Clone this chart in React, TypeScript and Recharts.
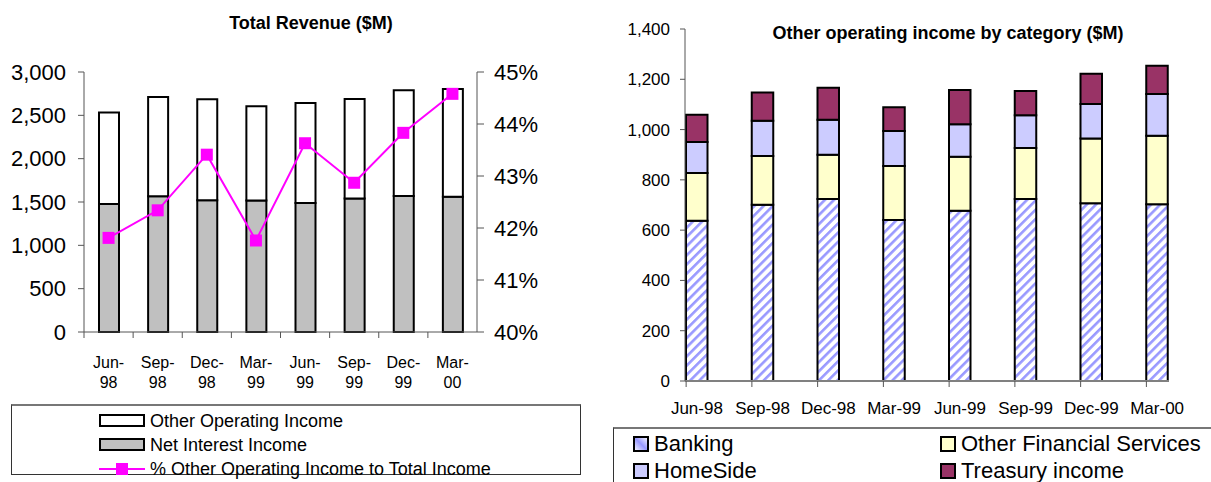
import React from "react";
import {
  ComposedChart,
  BarChart,
  Bar,
  Line,
  XAxis,
  YAxis,
} from "recharts";

const PERIODS = ["Jun-98", "Sep-98", "Dec-98", "Mar-99", "Jun-99", "Sep-99", "Dec-99", "Mar-00"];

// left chart ($M and %)
const NET_INTEREST = [1477, 1566, 1520, 1516, 1488, 1539, 1569, 1562];
const OTHER_OPERATING = [1055, 1146, 1165, 1088, 1154, 1149, 1220, 1242];
const OOI_PCT = [41.81, 42.34, 43.41, 41.76, 43.63, 42.87, 43.83, 44.58];
const REVENUE_TICKS = [0, 500, 1000, 1500, 2000, 2500, 3000];
const PCT_TICKS = [40, 41, 42, 43, 44, 45];

// right chart ($M)
const BANKING = [637, 701, 724, 640, 677, 724, 707, 703];
const OTHER_FIN = [190, 194, 176, 215, 215, 203, 257, 272];
const HOMESIDE = [124, 140, 139, 139, 129, 130, 138, 166];
const TREASURY = [108, 112, 127, 95, 136, 96, 120, 113];
const CATEGORY_TICKS = [0, 200, 400, 600, 800, 1000, 1200, 1400];

const revenueData = PERIODS.map((p, i) => ({
  period: p,
  nii: NET_INTEREST[i],
  ooi: OTHER_OPERATING[i],
  pct: OOI_PCT[i],
}));

const categoryData = PERIODS.map((p, i) => ({
  period: p,
  banking: BANKING[i],
  ofs: OTHER_FIN[i],
  homeside: HOMESIDE[i],
  treasury: TREASURY[i],
}));

const FONT = "Arial, 'Liberation Sans', sans-serif";
const AXIS = "#555";
const MAGENTA = "#ff00ff";
const RIGHT_BAR = 21.5;

const fmt = (v: number) => v.toLocaleString("en-US");

const SquareDot = (p: any) => {
  if (p.cx == null || p.cy == null) return <g key={p.key} />;
  return <rect key={p.key} x={p.cx - 6} y={p.cy - 6} width={12} height={12} fill={MAGENTA} />;
};

// "Jun-" on top, "98" below, tick marks on category boundaries
const TwoLineTick = (props: any) => {
  const { x, y, payload } = props;
  const half = payload?.offset ?? 0;
  const [mon, yr] = String(payload.value).split("-");
  return (
    <g>
      <line x1={x - half} x2={x - half} y1={y} y2={y + 6} stroke={AXIS} />
      <text x={x} y={y + 30} dy="0.35em" textAnchor="middle" fontSize={16} fontFamily={FONT} fill="#000">
        {mon}-
      </text>
      <text x={x} y={y + 50} dy="0.35em" textAnchor="middle" fontSize={16} fontFamily={FONT} fill="#000">
        {yr}
      </text>
    </g>
  );
};

const EdgeTick = (props: any) => {
  const { x, y, payload } = props;
  const left = x - RIGHT_BAR / 2;
  return (
    <g>
      <line x1={left} x2={left} y1={y} y2={y + 6} stroke={AXIS} />
      <text x={x} y={y + 27} dy="0.35em" textAnchor="middle" fontSize={17} fontFamily={FONT} fill="#000">
        {payload.value}
      </text>
    </g>
  );
};

const abs = (left: number, top: number, extra: React.CSSProperties = {}): React.CSSProperties => ({
  position: "absolute",
  left,
  top,
  ...extra,
});

function LeftLegend() {
  const row = (top: number, icon: React.ReactNode, label: string) => (
    <div style={abs(87, top, { display: "flex", alignItems: "center", height: 22 })}>
      <svg width={47} height={16} style={{ marginRight: 4 }}>
        {icon}
      </svg>
      <span style={{ fontSize: 18, fontFamily: FONT, color: "#000", whiteSpace: "nowrap" }}>{label}</span>
    </div>
  );
  return (
    <div style={abs(11, 404, { width: 570, height: 71, border: "1px solid #333", borderTopColor: "#777", borderTopWidth: 2, boxSizing: "border-box" })}>
      {row(4, <rect x={1} y={2} width={44} height={11} fill="#fff" stroke="#000" strokeWidth={2} />, "Other Operating Income")}
      {row(28, <rect x={1} y={2} width={44} height={11} fill="#c0c0c0" stroke="#000" strokeWidth={2} />, "Net Interest Income")}
      {row(52, (
        <g>
          <line x1={0} x2={46} y1={8} y2={8} stroke={MAGENTA} strokeWidth={2} />
          <rect x={17} y={2} width={12} height={12} fill={MAGENTA} />
        </g>
      ), "% Other Operating Income to Total Income")}
    </div>
  );
}

function RightLegend() {
  const item = (left: number, top: number, fill: string, label: string) => (
    <div style={abs(left, top, { display: "flex", alignItems: "center", height: 26 })}>
      <svg width={18} height={18} style={{ marginRight: 4 }}>
        <defs>
          <linearGradient id="bankIcon" x1="0" y1="1" x2="1" y2="0">
            <stop offset="0" stopColor="#ffffff" />
            <stop offset="0.5" stopColor="#9999ff" />
            <stop offset="1" stopColor="#ffffff" />
          </linearGradient>
        </defs>
        <rect x={2} y={2} width={14} height={14} fill={fill} stroke="#000" strokeWidth={2} />
      </svg>
      <span style={{ fontSize: 22, fontFamily: FONT, color: "#000", whiteSpace: "nowrap" }}>{label}</span>
    </div>
  );
  return (
    <div style={abs(613, 427, { width: 640, height: 70, border: "1px solid #333", borderTopColor: "#777", borderTopWidth: 2, boxSizing: "border-box" })}>
      {item(18, 2, "url(#bankIcon)", "Banking")}
      {item(18, 29, "#ccccff", "HomeSide")}
      {item(325, 2, "#ffffcc", "Other Financial Services")}
      {item(325, 29, "#993366", "Treasury income")}
    </div>
  );
}

export default function App() {
  return (
    <div style={{ position: "absolute", left: 0, top: 0, width: 1211, height: 482, overflow: "hidden", background: "#fff" }}>
      <div style={abs(211, 13, { width: 200, textAlign: "center", fontSize: 18, fontWeight: "bold", fontFamily: FONT })}>
        Total Revenue ($M)
      </div>
      <div style={abs(0, 0)}>
        <ComposedChart
          width={600}
          height={400}
          data={revenueData}
          margin={{ top: 72, right: 53, left: 14, bottom: 18 }}
        >
          <XAxis
            dataKey="period"
            height={50}
            tickLine={false}
            tickSize={0}
            tickMargin={0}
            axisLine={{ stroke: AXIS }}
            tick={<TwoLineTick />}
            interval={0}
          />
          <YAxis
            yAxisId="left"
            width={70}
            domain={[0, 3000]}
            ticks={REVENUE_TICKS}
            tickFormatter={fmt}
            tickSize={6}
            tickMargin={12}
            axisLine={{ stroke: AXIS }}
            tickLine={{ stroke: AXIS }}
            tick={{ fontSize: 22, fill: "#000", fontFamily: FONT }}
          />
          <YAxis
            yAxisId="right"
            orientation="right"
            width={70}
            domain={[40, 45]}
            ticks={PCT_TICKS}
            tickFormatter={(v: number) => `${v}%`}
            tickSize={7}
            tickMargin={10}
            axisLine={{ stroke: AXIS }}
            tickLine={{ stroke: AXIS }}
            tick={{ fontSize: 22, fill: "#000", fontFamily: FONT }}
          />
          <Bar yAxisId="left" dataKey="nii" stackId="rev" fill="#c0c0c0" stroke="#000" strokeWidth={2} barSize={20} isAnimationActive={false} />
          <Bar yAxisId="left" dataKey="ooi" stackId="rev" fill="#ffffff" stroke="#000" strokeWidth={2} barSize={20} isAnimationActive={false} />
          <Line
            yAxisId="right"
            dataKey="pct"
            stroke={MAGENTA}
            strokeWidth={2}
            dot={SquareDot}
            activeDot={false}
            type="linear"
            isAnimationActive={false}
          />
        </ComposedChart>
      </div>

      <div style={abs(718, 23, { width: 460, textAlign: "center", fontSize: 18, fontWeight: "bold", fontFamily: FONT, whiteSpace: "nowrap" })}>
        Other operating income by category ($M)
      </div>
      <div style={abs(600, 0)}>
        <BarChart
          width={611}
          height={430}
          data={categoryData}
          margin={{ top: 29, right: 42, left: 25, bottom: 9 }}
        >
          <defs>
            <pattern id="bankStripes" width={6.5} height={6.5} patternUnits="userSpaceOnUse" patternTransform="rotate(45)">
              <rect width={6.5} height={6.5} fill="#ffffff" />
              <rect width={2.6} height={6.5} fill="#9999ff" />
            </pattern>
          </defs>
          <XAxis
            dataKey="period"
            height={40}
            padding={{ left: -21, right: -21 }}
            tickLine={false}
            tickSize={0}
            tickMargin={0}
            axisLine={{ stroke: "#808080", strokeWidth: 2 }}
            tick={<EdgeTick />}
            interval={0}
          />
          <YAxis
            width={60}
            domain={[0, 1400]}
            ticks={CATEGORY_TICKS}
            tickFormatter={fmt}
            tickSize={5}
            tickMargin={10}
            axisLine={{ stroke: AXIS }}
            tickLine={{ stroke: AXIS }}
            tick={{ fontSize: 17, fill: "#000", fontFamily: FONT }}
          />
          <Bar dataKey="banking" stackId="cat" fill="url(#bankStripes)" stroke="#000" strokeWidth={2} barSize={RIGHT_BAR} isAnimationActive={false} />
          <Bar dataKey="ofs" stackId="cat" fill="#ffffcc" stroke="#000" strokeWidth={2} barSize={RIGHT_BAR} isAnimationActive={false} />
          <Bar dataKey="homeside" stackId="cat" fill="#ccccff" stroke="#000" strokeWidth={2} barSize={RIGHT_BAR} isAnimationActive={false} />
          <Bar dataKey="treasury" stackId="cat" fill="#993366" stroke="#000" strokeWidth={2} barSize={RIGHT_BAR} isAnimationActive={false} />
        </BarChart>
      </div>

      <LeftLegend />
      <RightLegend />
    </div>
  );
}
